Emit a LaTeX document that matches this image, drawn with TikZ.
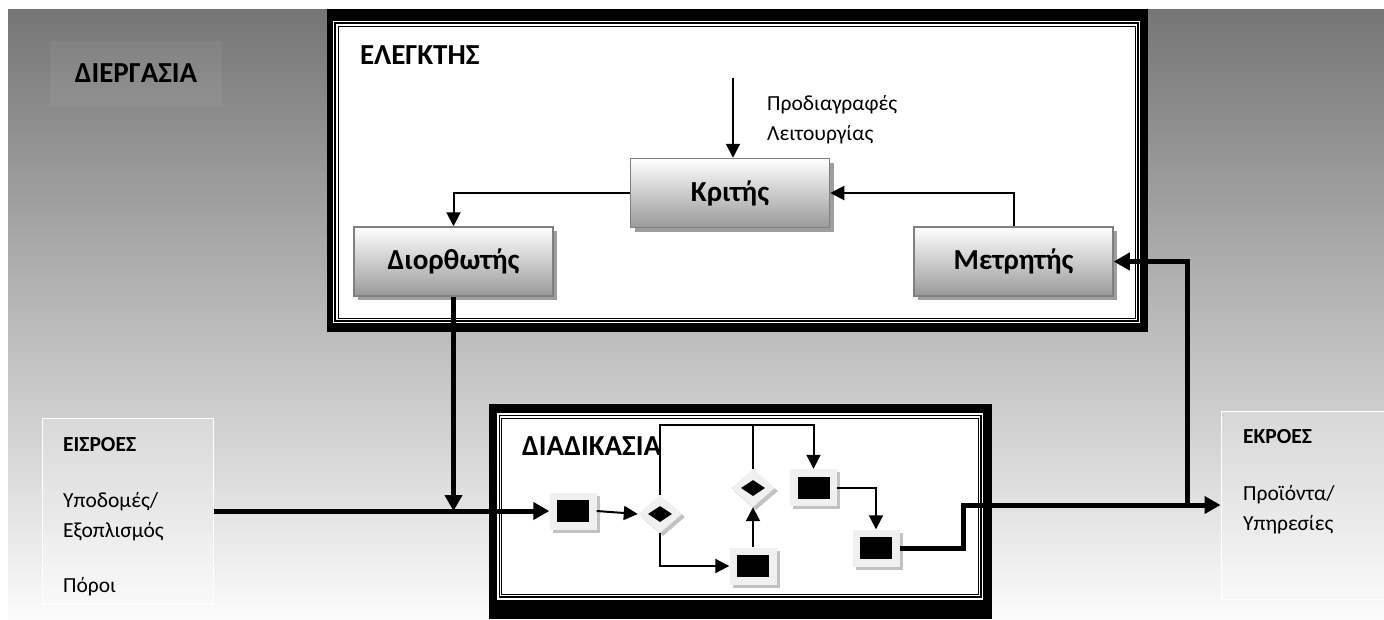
\documentclass[tikz,border=0pt]{standalone}
\usepackage{fontspec}
\setmainfont{Carlito}
\usetikzlibrary{arrows.meta,shapes.geometric,shadows}
\definecolor{bgtop}{gray}{0.46}
\definecolor{bgbot}{gray}{0.985}
\definecolor{boxbot}{gray}{0.6}
\definecolor{boxline}{gray}{0.5}
\definecolor{cshad}{gray}{0.62}
\definecolor{cpframe}{gray}{0.94}
\definecolor{cpshad}{gray}{0.76}
\newcommand\headfont{\bfseries\fontsize{29}{34}\selectfont}
\newcommand\smallfont{\fontsize{21.5}{26}\selectfont}
\newcommand\smallbold{\bfseries\fontsize{21.5}{26}\selectfont}
\tikzset{
 ctrlbox/.style={rectangle, minimum width=199pt, minimum height=69pt, inner sep=0pt,
   draw=boxline, line width=1.5pt, top color=white, bottom color=boxbot, font=\headfont,
   drop shadow={shadow xshift=4pt, shadow yshift=-4pt, fill=cshad, opacity=1}},
 pframe/.style={rectangle, minimum width=47pt, minimum height=37pt, inner sep=0pt,
   fill=cpframe, drop shadow={shadow xshift=3pt, shadow yshift=-3pt, fill=cpshad, opacity=1}},
 pinner/.style={rectangle, minimum width=32pt, minimum height=22pt, inner sep=0pt, fill=black},
 dframe/.style={diamond, minimum width=44pt, minimum height=38pt, inner sep=0pt,
   fill=cpframe, drop shadow={shadow xshift=3pt, shadow yshift=-3pt, fill=cpshad, opacity=1}},
 dinner/.style={diamond, minimum width=24pt, minimum height=16pt, inner sep=0pt, fill=black},
 thinline/.style={line width=2pt},
 thinarrow/.style={line width=2pt, -{Triangle[length=14pt,width=14pt]}},
 thickarrow/.style={line width=5pt, -{Triangle[length=16pt,width=17pt]}},
 txt/.style={anchor=base west, inner sep=0pt, font=\smallfont},
 txtb/.style={anchor=base west, inner sep=0pt, font=\smallbold},
 head/.style={anchor=base west, inner sep=0pt, font=\headfont},
 iobox/.style={rectangle, draw=white, line width=1pt, fill=white, fill opacity=0.2,
   minimum width=171pt, inner sep=0pt}
}
\begin{document}
\begin{tikzpicture}[x=1pt,y=-1pt]
\useasboundingbox (0,0) rectangle (1384,619);
% background
\shade[top color=bgtop, bottom color=bgbot] (8,9) rectangle (1384,619);
\node[fill=white, fill opacity=0.05, text opacity=1, minimum width=172pt, minimum height=65pt,
  inner sep=0pt, font=\headfont] (dierg) at (136,73.5) {ΔΙΕΡΓΑΣΙΑ};
% input / output boxes
\node[iobox, minimum height=186pt] (inbox) at (127.5,511) {};
\node[iobox, minimum height=188pt] (outbox) at (1306.5,505) {};
\node[txtb] (intitle) at (63,451) {ΕΙΣΡΟΕΣ};
\node[txt] (in1) at (63,507) {Υποδομές/};
\node[txt] (in2) at (63,537) {Εξοπλισμός};
\node[txt] (in3) at (63,592) {Πόροι};
\node[txtb] (outtitle) at (1243,443) {ΕΚΡΟΕΣ};
\node[txt] (out1) at (1243,500) {Προϊόντα/};
\node[txt] (out2) at (1243,530) {Υπηρεσίες};
% controller frame
\fill[black] (327,9) rectangle (1148,332);
\fill[white] (333,21) rectangle (1140,323);
\draw[line width=1.2pt] (335,23) rectangle (1138,321);
\draw[line width=1pt] (338,26) rectangle (1135,318);
% process frame
\fill[black] (489,404) rectangle (992,619);
\fill[white] (497,413) rectangle (983,600);
\draw[line width=1.2pt] (499.3,415.7) rectangle (981,597);
\draw[line width=1pt] (501.7,418) rectangle (978.3,594.3);
% titles
\node[head] (elegktis) at (360,64) {ΕΛΕΓΚΤΗΣ};
\node[head] (diadikasia) at (522,455) {ΔΙΑΔΙΚΑΣΙΑ};
\node[txt] (spec1) at (767,110) {Προδιαγραφές};
\node[txt] (spec2) at (767,140) {Λειτουργίας};
% controller nodes
\node[ctrlbox] (krit) at (730,193) {Κριτής};
\node[ctrlbox] (dior) at (453.5,261.5) {Διορθωτής};
\node[ctrlbox] (met) at (1013.5,261.5) {Μετρητής};
% process nodes
\node[pframe] (p1) at (573,511) {};
\node[pinner] (p1in) at (p1) {};
\node[dframe] (d1) at (660,514) {};
\node[dinner] (d1in) at (d1) {};
\node[pframe] (p2) at (753,566) {};
\node[pinner] (p2in) at (p2) {};
\node[dframe] (d2) at (753,488) {};
\node[dinner] (d2in) at (d2) {};
\node[pframe] (p3) at (813.5,487.5) {};
\node[pinner] (p3in) at (p3) {};
\node[pframe] (p4) at (876,548) {};
\node[pinner] (p4in) at (p4) {};
% coordinates
\coordinate (spec) at (733,78);
\coordinate (tl) at (740,425);
\coordinate (bend) at (963,505);
\coordinate (fb) at (1187,505);
% controller connectors
\draw[thinarrow] (spec) -- (spec |- krit.north);
\draw[thinarrow] (krit.west) -| (dior.north);
\draw[thinarrow] (met.north) |- (krit.east);
% process connectors
\draw[thinarrow] (p1.east) -- (d1.west);
\draw[thinarrow] (d1.south) |- (p2.west);
\draw[thinarrow] (d1.north) |- (tl) -| (p3.north);
\draw[thinline] (d2.north) -- (d2.north |- tl);
\draw[thinarrow] (p2.north) -- (d2.south);
\draw[thinarrow] (p3.east) -| (p4.north);
% thick flows
\draw[thickarrow] (inbox.east |- p1.west) -- (p1.west);
\draw[thickarrow] (dior.south) -- (dior.south |- p1.west);
\draw[thickarrow] (p4.east) -| (bend) -- (outbox.west);
\draw[thickarrow] (fb) |- (met.east);
\end{tikzpicture}
\end{document}
